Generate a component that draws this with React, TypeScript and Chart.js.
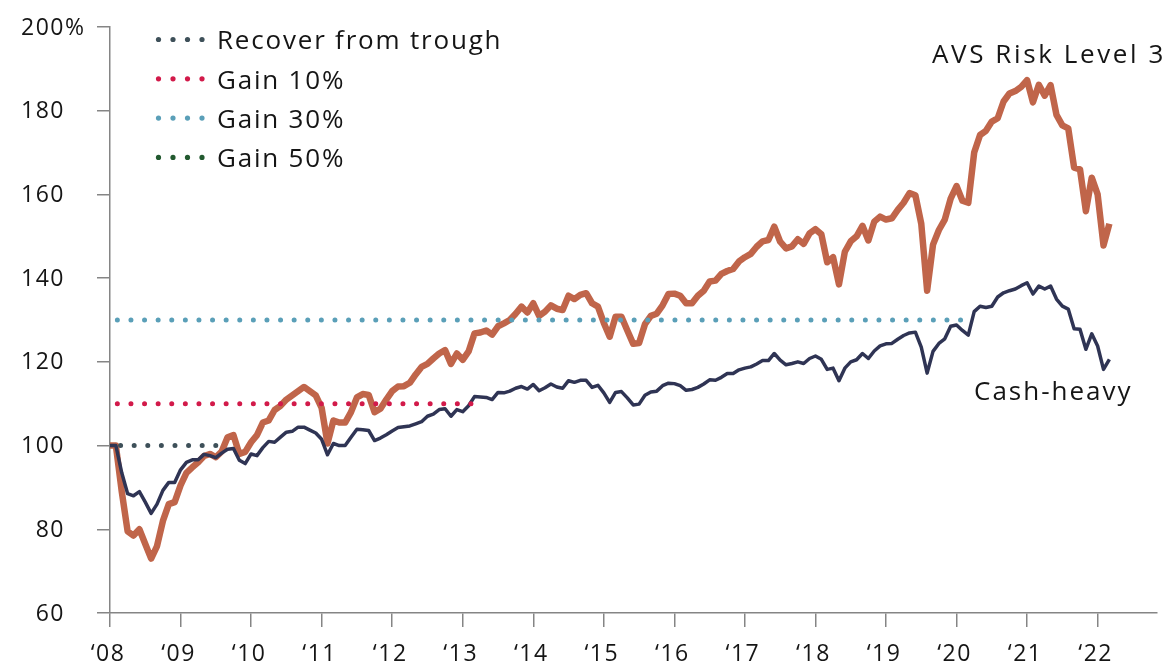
import React, { useEffect, useRef } from "react";
import { Chart, registerables } from "chart.js";

Chart.register(...registerables);

// ---------- data ----------
const YEAR_LABELS = ["‘08", "‘09", "‘10", "‘11", "‘12", "‘13", "‘14", "‘15", "‘16", "‘17", "‘18", "‘19", "‘20", "‘21", "‘22"];
const Y_TICKS = [60, 80, 100, 120, 140, 160, 180, 200];

// Monthly index values, Jan 2008 = 100
const RISK3 = [
  100, 100, 89, 79.5, 78.5, 80, 76.5, 73, 76, 82,
  86, 86.5, 90.5, 93.5, 94.8, 96, 97.5, 98, 97.2, 98.6,
  102, 102.5, 98, 98.5, 100.8, 102.5, 105.5, 106, 108.5, 109.5,
  111, 112, 113, 114, 113, 112, 109, 100.5, 106, 105.5,
  105.5, 108, 111.5, 112.3, 112.1, 108, 108.8, 111, 113, 114.1,
  114.2, 115, 117, 118.8, 119.5, 120.8, 122, 122.8, 119.5, 122,
  120.5, 122.5, 126.8, 127, 127.5, 126.5, 128.5, 129.2, 130, 131.5,
  133.2, 131.8, 134, 131, 132, 133.5, 132.7, 132.4, 135.8, 135,
  136, 136.4, 134, 133.2, 129.3, 126, 130.8, 130.8, 127.5, 124.3,
  124.5, 129, 131, 131.5, 133.5, 136.2, 136.3, 135.8, 134, 134,
  135.8, 137, 139.2, 139.4, 141, 141.7, 142.2, 144, 145, 145.8,
  147.5, 148.8, 149.1, 152.3, 148.7, 147.1, 147.6, 149.3, 148.2, 150.7,
  151.7, 150.5, 143.8, 145, 138.5, 146.3, 148.8, 150, 152.5, 149,
  153.5, 154.7, 154, 154.3, 156.3, 158, 160.3, 159.8, 153, 137,
  148, 151.5, 154, 159, 162, 158.5, 158, 170, 174.2, 175.2,
  177.4, 178.2, 182.2, 184.1, 184.7, 185.7, 187.3, 182, 186.2, 183.6,
  186.1, 179, 176.5, 175.8, 166.4, 166, 156, 164, 160, 147.8, 153,
];

const CASH_HEAVY = [
  100, 100, 93.5, 88.5, 88, 89, 86.5, 83.8, 86, 89.3,
  91.2, 91.2, 94.2, 96, 96.6, 96.6, 97.9, 97.6, 97.1, 98.2,
  99.1, 99.3, 96.5, 95.7, 98, 97.6, 99.5, 101, 100.8, 102,
  103.2, 103.4, 104.4, 104.4, 103.7, 103, 101.5, 97.8, 100.5, 100,
  100, 102, 103.9, 103.8, 103.6, 101.2, 101.8, 102.6, 103.5, 104.3,
  104.5, 104.7, 105.2, 105.7, 107, 107.5, 108.6, 108.8, 107, 108.6,
  108.1, 109.5, 111.7, 111.6, 111.5, 111, 112.7, 112.6, 113, 113.7,
  114.1, 113.5, 114.6, 113.1, 113.8, 114.7, 114, 113.7, 115.5, 115.1,
  115.6, 115.6, 113.9, 114.4, 112.6, 110.3, 112.7, 112.9, 111.4, 109.7,
  109.9, 112, 112.8, 113, 114.3, 114.9, 114.8, 114.3, 113.2, 113.4,
  113.9, 114.7, 115.7, 115.6, 116.3, 117.2, 117.2, 118.1, 118.5, 118.8,
  119.5, 120.3, 120.3, 122, 120.4, 119.3, 119.6, 120, 119.6, 120.8,
  121.4, 120.6, 118.2, 118.5, 115.5, 118.5, 120, 120.5, 122, 120.8,
  122.6, 123.8, 124.3, 124.4, 125.4, 126.3, 126.9, 127.1, 123.5, 117.3,
  122.5, 124.4, 125.5, 128.5, 128.8, 127.5, 126.4, 132, 133.3, 133,
  133.3, 135.5, 136.5, 137, 137.4, 138.2, 138.9, 136.2, 138.1, 137.4,
  138.1, 135, 133.3, 132.6, 127.9, 127.8, 123, 126.7, 123.8, 118.2, 120.6,
];

// Reference (dotted) levels: [startMonth, endMonth, level]
const RECOVER_LINE = [1.8, 18, 100];
const GAIN10_LINE = [1.25, 61.4, 110];
const GAIN30_LINE = [1.25, 146.7, 130];

const LEGEND_LABELS = ["Recover from trough", "Gain 10%", "Gain 30%", "Gain 50%"];
const SERIES_LABELS = ["AVS Risk Level 3", "Cash-heavy"];

// ---------- styles ----------
const COLORS = {
  risk: "#c0654a",
  cash: "#2f3454",
  recover: "#3e5059",
  gain10: "#d21a4a",
  gain30: "#5a9fb8",
  gain50: "#22592f",
  axis: "#858585",
  text: "#151515",
};
const LEGEND_COLORS = [COLORS.recover, COLORS.gain10, COLORS.gain30, COLORS.gain50];
const FONT = "'Open Sans', sans-serif";
const X_MAX = 178.1;

const toPoints = (arr: number[]) => arr.map((v, i) => ({ x: i, y: v }));
const refPoints = (r: number[]) => [{ x: r[0], y: r[2] }, { x: r[1], y: r[2] }];

const labelsPlugin = {
  id: "customLabels",
  afterDraw(chart: any) {
    const ctx = chart.ctx as CanvasRenderingContext2D;
    const ys = chart.scales.y;
    const xs = chart.scales.x;
    ctx.save();
    ctx.fillStyle = COLORS.text;
    ctx.textBaseline = "alphabetic";

    // y tick labels (right-aligned digits, % hangs on the top one)
    ctx.font = `500 23px ${FONT}`;
    (ctx as any).letterSpacing = "1.5px";
    Y_TICKS.forEach((t, i) => {
      const y = ys.getPixelForValue(t) + 7.5;
      const s = String(t);
      const w = ctx.measureText(s).width;
      ctx.textAlign = "left";
      ctx.fillText(i === Y_TICKS.length - 1 ? s + "%" : s, 65 - w, y);
    });

    // x tick labels
    ctx.font = `500 23px ${FONT}`;
    (ctx as any).letterSpacing = "1.5px";
    ctx.textAlign = "center";
    YEAR_LABELS.forEach((l, i) => {
      const x = xs.getPixelForValue(i * 12) - 2;
      ctx.fillText(l, x, 661);
    });

    // legend
    ctx.font = `500 26px ${FONT}`;
    (ctx as any).letterSpacing = "1.8px";
    ctx.textAlign = "left";
    LEGEND_LABELS.forEach((l, i) => {
      const cy = 39.5 + i * 39.3;
      ctx.fillStyle = LEGEND_COLORS[i];
      for (let k = 0; k < 4; k++) {
        ctx.beginPath();
        ctx.arc(158.5 + k * 14.5, cy, 2.6, 0, Math.PI * 2);
        ctx.fill();
      }
      ctx.fillStyle = COLORS.text;
      ctx.fillText(l, 217, cy + 9.7);
    });

    // series annotations
    ctx.font = `500 26px ${FONT}`;
    (ctx as any).letterSpacing = "2.6px";
    ctx.fillText(SERIES_LABELS[0], 932, 63);
    (ctx as any).letterSpacing = "2px";
    ctx.fillText(SERIES_LABELS[1], 974, 400);
    ctx.restore();
  },
};

export default function App() {
  const canvasRef = useRef<HTMLCanvasElement | null>(null);

  useEffect(() => {
    if (!canvasRef.current) return;
    const dotted = (color: string) => ({
      borderColor: color,
      borderWidth: 5,
      borderDash: [0, 13.6],
      borderCapStyle: "round" as const,
      pointRadius: 0,
      fill: false,
    });
    const chart = new Chart(canvasRef.current, {
      type: "line",
      data: {
        datasets: [
          { label: LEGEND_LABELS[0], data: refPoints(RECOVER_LINE), order: 0, ...dotted(COLORS.recover) },
          { label: LEGEND_LABELS[1], data: refPoints(GAIN10_LINE), order: 0, ...dotted(COLORS.gain10) },
          { label: LEGEND_LABELS[2], data: refPoints(GAIN30_LINE), order: 0, ...dotted(COLORS.gain30) },
          {
            label: SERIES_LABELS[1],
            data: toPoints(CASH_HEAVY),
            borderColor: COLORS.cash,
            borderWidth: 3.5,
            pointRadius: 0,
            tension: 0,
            borderJoinStyle: "round",
            order: 1,
          },
          {
            label: SERIES_LABELS[0],
            data: toPoints(RISK3),
            borderColor: COLORS.risk,
            borderWidth: 6.5,
            pointRadius: 0,
            tension: 0,
            borderJoinStyle: "round",
            order: 2,
          },
        ],
      },
      options: {
        animation: false,
        responsive: true,
        maintainAspectRatio: false,
        layout: { padding: { top: 27, right: 6, left: 0, bottom: 0 } },
        plugins: { legend: { display: false }, tooltip: { enabled: false } },
        scales: {
          x: {
            type: "linear",
            min: 0,
            max: X_MAX,
            afterBuildTicks: (scale: any) => {
              scale.ticks = YEAR_LABELS.map((_, i) => ({ value: i * 12 }));
            },
            afterFit: (scale: any) => {
              scale.height = 52;
            },
            ticks: { display: false },
            grid: {
              display: true,
              drawOnChartArea: false,
              drawTicks: true,
              tickLength: 14,
              color: COLORS.axis,
              lineWidth: 1.5,
            },
            border: { display: true, color: COLORS.axis, width: 1.5 },
          },
          y: {
            type: "linear",
            min: 60,
            max: 200,
            afterBuildTicks: (scale: any) => {
              scale.ticks = Y_TICKS.map((v) => ({ value: v }));
            },
            afterFit: (scale: any) => {
              scale.width = 110;
            },
            ticks: { display: false },
            grid: {
              display: true,
              drawOnChartArea: false,
              drawTicks: true,
              tickLength: 13,
              color: COLORS.axis,
              lineWidth: 1.5,
            },
            border: { display: true, color: COLORS.axis, width: 1.5 },
          },
        },
      },
      plugins: [labelsPlugin],
    } as any);
    return () => chart.destroy();
  }, []);

  return (
    <div style={{ position: "absolute", left: 0, top: 0, width: 1163, height: 665, background: "#fff" }}>
      <canvas ref={canvasRef} />
    </div>
  );
}
